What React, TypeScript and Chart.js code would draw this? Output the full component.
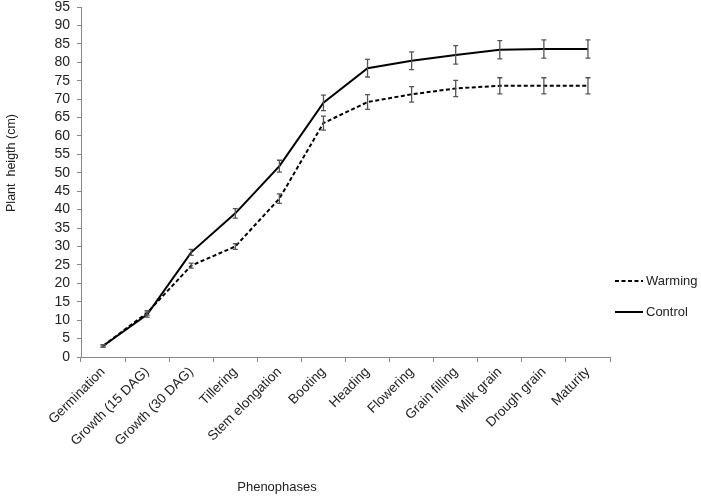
import React, { useEffect, useRef } from "react";
import { Chart, registerables } from "chart.js";

Chart.register(...registerables);

const categories = [
  "Germination",
  "Growth (15 DAG)",
  "Growth (30 DAG)",
  "Tillering",
  "Stem elongation",
  "Booting",
  "Heading",
  "Flowering",
  "Grain filling",
  "Milk grain",
  "Drough grain",
  "Maturity",
];
const warming = [3, 12, 24.8, 30, 43, 63.5, 69.2, 71.3, 72.9, 73.6, 73.6, 73.6];
const control = [3, 11.5, 28.4, 39, 51.8, 69, 78.4, 80.4, 82, 83.4, 83.6, 83.6];
const warmingErr = [0.3, 0.6, 0.7, 0.8, 1.3, 1.9, 2.0, 2.1, 2.2, 2.2, 2.2, 2.2];
const controlErr = [0.3, 0.7, 0.8, 1.3, 1.6, 2.1, 2.4, 2.4, 2.5, 2.5, 2.5, 2.5];
const seriesNames = ["Warming", "Control"];
const yTitle = "Plant  heigth (cm)";
const xTitle = "Phenophases";

const FONT = "'Liberation Sans', Arial, sans-serif";
const TEXT = "#222";

const errorBarPlugin = {
  id: "errorBars",
  afterDatasetsDraw(chart: any) {
    const ctx = chart.ctx;
    const yScale = chart.scales.y;
    chart.data.datasets.forEach((ds: any, di: number) => {
      const meta = chart.getDatasetMeta(di);
      const errs: number[] = ds.errors || [];
      ctx.save();
      ctx.strokeStyle = "#555";
      ctx.lineWidth = 1.3;
      meta.data.forEach((pt: any, i: number) => {
        const v = ds.data[i];
        const e = errs[i] || 0;
        const x = pt.x;
        const yTop = yScale.getPixelForValue(v + e);
        const yBot = yScale.getPixelForValue(v - e);
        ctx.beginPath();
        ctx.moveTo(x, yTop);
        ctx.lineTo(x, yBot);
        ctx.moveTo(x - 2.5, yTop);
        ctx.lineTo(x + 2.5, yTop);
        ctx.moveTo(x - 2.5, yBot);
        ctx.lineTo(x + 2.5, yBot);
        ctx.stroke();
      });
      ctx.restore();
    });
  },
};

const extrasPlugin = {
  id: "extras",
  afterDraw(chart: any) {
    const ctx = chart.ctx;
    const area = chart.chartArea;
    ctx.save();
    ctx.fillStyle = TEXT;
    ctx.font = `13px ${FONT}`;
    ctx.textAlign = "center";
    ctx.textBaseline = "middle";
    // x-axis title
    ctx.fillText(xTitle, 277, 487);
    // y-axis title
    ctx.save();
    ctx.translate(12, 163);
    ctx.rotate(-Math.PI / 2);
    ctx.font = `12.5px ${FONT}`;
    ctx.fillText(yTitle, 0, 0);
    ctx.restore();
    // legend
    const lx = area.right + 5;
    const items = [
      { name: seriesNames[0], dash: [4, 2.5], y: 281 },
      { name: seriesNames[1], dash: [], y: 312 },
    ];
    items.forEach((it) => {
      ctx.strokeStyle = "#000";
      ctx.lineWidth = 2;
      ctx.setLineDash(it.dash);
      ctx.beginPath();
      ctx.moveTo(lx, it.y);
      ctx.lineTo(lx + 28, it.y);
      ctx.stroke();
      ctx.setLineDash([]);
      ctx.textAlign = "left";
      ctx.fillText(it.name, lx + 31, it.y);
    });
    ctx.restore();
  },
};

export default function App() {
  const canvasRef = useRef<HTMLCanvasElement | null>(null);

  useEffect(() => {
    if (!canvasRef.current) return;
    const chart = new Chart(canvasRef.current, {
      type: "line",
      data: {
        labels: categories,
        datasets: [
          {
            label: seriesNames[0],
            data: warming,
            errors: warmingErr,
            borderColor: "#000",
            borderWidth: 2,
            borderDash: [4, 2.5],
            pointRadius: 0,
            tension: 0,
            fill: false,
          } as any,
          {
            label: seriesNames[1],
            data: control,
            errors: controlErr,
            borderColor: "#000",
            borderWidth: 2,
            pointRadius: 0,
            tension: 0,
            fill: false,
          } as any,
        ],
      },
      options: {
        animation: false,
        responsive: true,
        maintainAspectRatio: false,
        layout: { padding: { top: 7, right: 91, left: 0, bottom: 0 } },
        plugins: {
          legend: { display: false },
          tooltip: { enabled: false },
        },
        scales: {
          x: {
            type: "category",
            offset: true,
            grid: {
              display: true,
              drawOnChartArea: false,
              drawTicks: true,
              tickLength: 5,
              offset: true,
              color: "#888",
            },
            border: { display: true, color: "#888", width: 1 },
            ticks: {
              autoSkip: false,
              minRotation: 45,
              maxRotation: 45,
              padding: 2,
              color: TEXT,
              font: { family: FONT, size: 13.5 },
            },
            afterFit: (s: any) => {
              s.height = 139;
              s.paddingLeft = 0;
              s.paddingRight = 0;
            },
          },
          y: {
            min: 0,
            max: 95,
            grid: {
              display: true,
              drawOnChartArea: false,
              drawTicks: true,
              tickLength: 4,
              color: "#888",
            },
            border: { display: true, color: "#888", width: 1 },
            ticks: {
              stepSize: 5,
              autoSkip: false,
              padding: 7,
              color: TEXT,
              font: { family: FONT, size: 14 },
            },
            afterFit: (s: any) => {
              s.width = 81;
              s.paddingTop = 0;
              s.paddingBottom = 0;
            },
          },
        },
      },
      plugins: [errorBarPlugin, extrasPlugin],
    });
    return () => chart.destroy();
  }, []);

  return (
    <div style={{ position: "absolute", left: 0, top: 0, width: 701, height: 496, background: "#fff" }}>
      <canvas ref={canvasRef} />
    </div>
  );
}
